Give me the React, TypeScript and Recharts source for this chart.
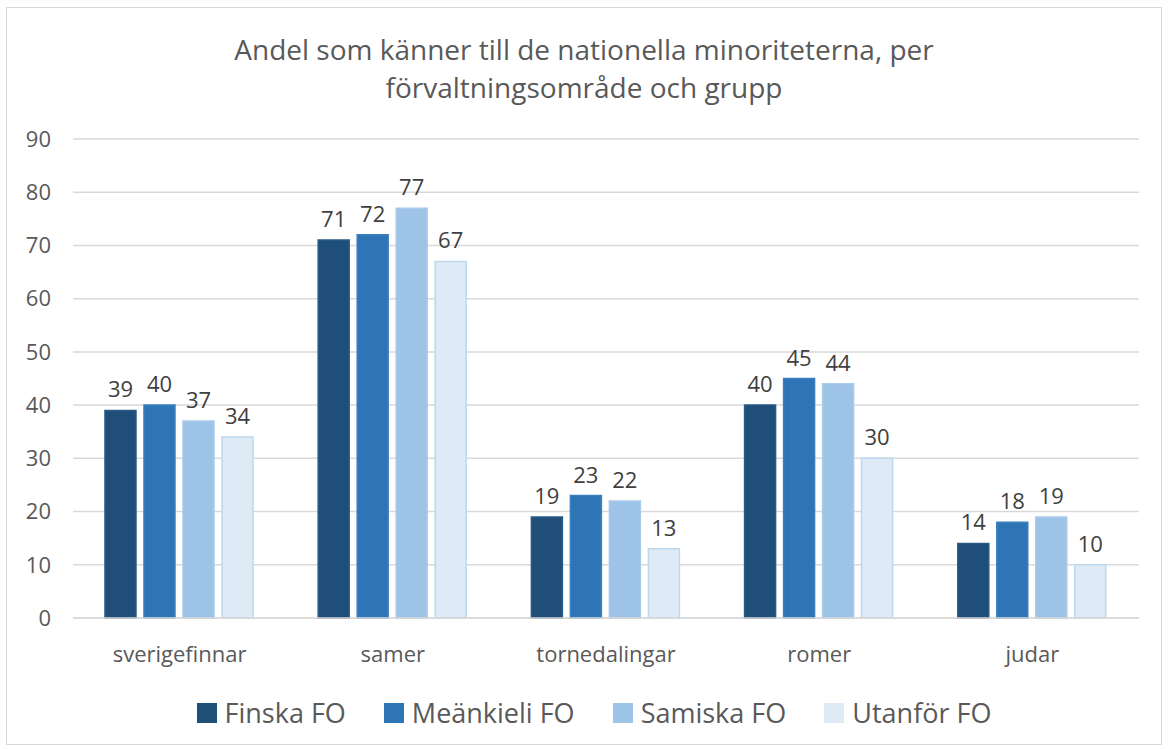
import { Bar, BarChart, CartesianGrid, LabelList, Legend, XAxis, YAxis } from "recharts";

const groups = ["sverigefinnar", "samer", "tornedalingar", "romer", "judar"];
const finska = [39, 71, 19, 40, 14];
const meankieli = [40, 72, 23, 45, 18];
const samiska = [37, 77, 22, 44, 19];
const utanfor = [34, 67, 13, 30, 10];
const yTicks = [0, 10, 20, 30, 40, 50, 60, 70, 80, 90];

const seriesInfo = [
  { key: "finska", name: "Finska FO", fill: "#1F4E79", stroke: "#2A5A87" },
  { key: "meankieli", name: "Meänkieli FO", fill: "#2E75B6", stroke: "#3B80BF" },
  { key: "samiska", name: "Samiska FO", fill: "#9DC3E6", stroke: "#A9CAEA" },
  { key: "utanfor", name: "Utanför FO", fill: "#DEEBF7", stroke: "#BDD7EE" },
];

const data = groups.map((g, i) => ({
  group: g,
  finska: finska[i],
  meankieli: meankieli[i],
  samiska: samiska[i],
  utanfor: utanfor[i],
}));

const font = "'Open Sans', sans-serif";

function LegendBox() {
  return (
    <div style={{ display: "flex", justifyContent: "center", gap: 38, paddingLeft: 26, fontFamily: font, fontSize: 27, color: "#595959" }}>
      {seriesInfo.map((s) => (
        <div key={s.key} style={{ display: "flex", alignItems: "center" }}>
          <span style={{ width: 20, height: 20, background: s.fill, marginRight: 8, display: "inline-block" }} />
          {s.name}
        </div>
      ))}
    </div>
  );
}

export default function App() {
  return (
    <div style={{ position: "absolute", left: 6, top: 7, width: 1156, height: 738, border: "1.5px solid #D9D9D9", boxSizing: "border-box", background: "#fff" }}>
      <div style={{ position: "absolute", top: 22, width: "100%", textAlign: "center", fontFamily: font, fontSize: 28, lineHeight: "38px", color: "#595959" }}>
        Andel som känner till de nationella minoriteterna, per
        <br />
        förvaltningsområde och grupp
      </div>
      <BarChart
        width={1154}
        height={736}
        data={data}
        margin={{ top: 131, right: 22, bottom: 0, left: 16 }}
        barCategoryGap="15%"
        barGap={8}
      >
        <CartesianGrid vertical={false} stroke="#D9D9D9" strokeWidth={1.5} />
        <XAxis
          dataKey="group"
          axisLine={{ stroke: "#D9D9D9", strokeWidth: 1.5 }}
          tickLine={false}
          tick={{ fill: "#595959", fontSize: 22, fontFamily: font }}
          tickMargin={22}
          height={76}
        />
        <YAxis
          domain={[0, 90]}
          ticks={yTicks}
          axisLine={false}
          tickLine={false}
          tick={{ fill: "#595959", fontSize: 22, fontFamily: font }}
          width={50}
          tickMargin={16}
        />
        <Legend verticalAlign="bottom" height={50} content={<LegendBox />} />
        {seriesInfo.map((s) => (
          <Bar key={s.key} dataKey={s.key} name={s.name} fill={s.fill} stroke={s.stroke} strokeWidth={1.5} isAnimationActive={false}>
            <LabelList dataKey={s.key} position="top" offset={13} fill="#404040" fontSize={22} fontFamily={font} />
          </Bar>
        ))}
      </BarChart>
    </div>
  );
}
